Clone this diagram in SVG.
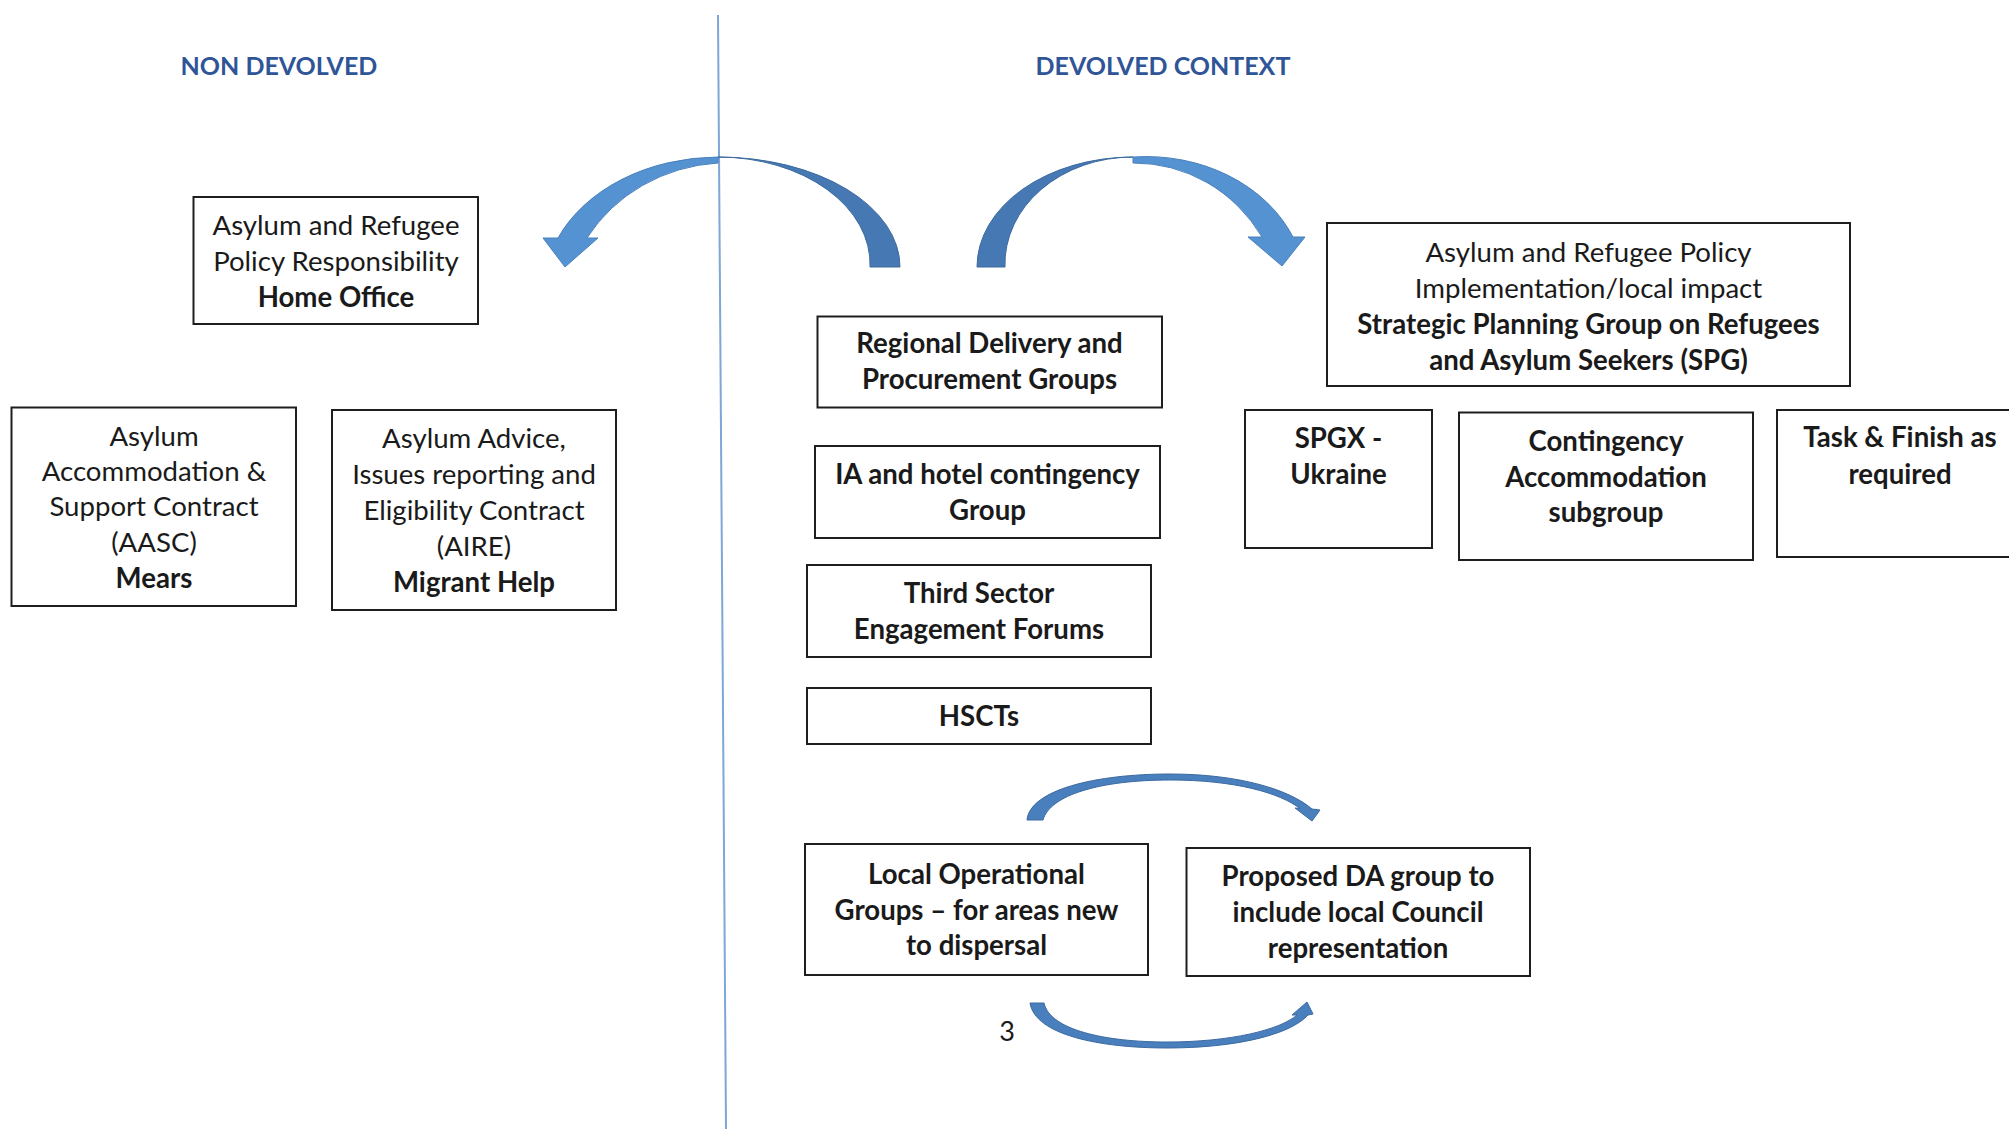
<svg xmlns="http://www.w3.org/2000/svg" width="2009" height="1129" viewBox="0 0 2009 1129">
<style>
.box{fill:#fff;stroke:#1e1e1e;stroke-width:2}
.t{font-family:Lato,"Liberation Sans",sans-serif;font-size:27.6px;fill:#1a1a1a;text-anchor:middle}
.b{font-weight:bold}
.h{font-family:Lato,"Liberation Sans",sans-serif;font-size:25px;font-weight:bold;fill:#2f5597;text-anchor:middle}
.dark{fill:#4678b4;stroke:#3d6a9e;stroke-width:1}
.light{fill:#5592d2;stroke:#4a80bb;stroke-width:1}
.small{fill:#4a7fbd;stroke:#3b6aa0;stroke-width:1}
</style>
<rect width="2009" height="1129" fill="#fff"/>
<line x1="718" y1="15" x2="726" y2="1129" stroke="#7ea6d6" stroke-width="2"/>
<text class="h" x="279" y="75">NON DEVOLVED</text>
<text class="h" x="1163" y="75">DEVOLVED CONTEXT</text>
<g id="connectors">
  <g id="arrow-left">
    <path class="dark" d="M900,267 A182,110 0 0 0 718,157 A152,107 0 0 1 870,267 Z"/>
    <path class="light" d="M718,157 A175,133 0 0 0 558,238 L543,238 L565,267 L598,238 L587,238 A165,155 0 0 1 718,163 Z"/>
  </g>
  <g id="arrow-right">
    <path class="dark" d="M977,267 A156,110 0 0 1 1133,157 A128,107 0 0 0 1005,267 Z"/>
    <path class="light" d="M1133,157 A160,133 0 0 1 1293,237 L1305,237 L1282,266 L1248,237 L1262,237 A150,155 0 0 0 1133,163 Z"/>
  </g>
  <path id="arrow-top-small" class="small" d="M1027,820 C1030,790 1095,774 1170,774 C1240,774 1290,790 1312,809 L1320,810 L1312,821 L1295,808 L1300,808.5 C1280,793 1235,780 1170,780 C1100,780 1050,795 1043,820 Z"/>
  <path id="arrow-bottom-small" class="small" d="M1030,1003 C1035,1035 1100,1048 1167,1048 C1235,1048 1290,1035 1308,1015 L1313,1014 L1307,1002 L1292,1015 L1297,1015 C1280,1030 1230,1042 1167,1042 C1105,1042 1050,1030 1044,1003 Z"/>
</g>
<g id="home-office">
  <rect class="box" x="193.5" y="197" width="284.5" height="127"/>
  <text class="t" x="336" y="235">Asylum and Refugee</text>
  <text class="t" x="336" y="271">Policy Responsibility</text>
  <text class="t b" x="336" y="307">Home Office</text>
</g>
<g id="mears">
  <rect class="box" x="11.5" y="407.5" width="284.5" height="198.5"/>
  <text class="t" x="154" y="446">Asylum</text>
  <text class="t" x="154" y="481">Accommodation &amp;</text>
  <text class="t" x="154" y="516">Support Contract</text>
  <text class="t" x="154" y="552">(AASC)</text>
  <text class="t b" x="154" y="588">Mears</text>
</g>
<g id="migrant-help">
  <rect class="box" x="332" y="410" width="284" height="200"/>
  <text class="t" x="474" y="448">Asylum Advice,</text>
  <text class="t" x="474" y="484">Issues reporting and</text>
  <text class="t" x="474" y="520">Eligibility Contract</text>
  <text class="t" x="474" y="556">(AIRE)</text>
  <text class="t b" x="474" y="592">Migrant Help</text>
</g>
<g id="regional">
  <rect class="box" x="817.5" y="316.5" width="344.5" height="91"/>
  <text class="t b" x="989.5" y="353">Regional Delivery and</text>
  <text class="t b" x="989.5" y="389">Procurement Groups</text>
</g>
<g id="ia-hotel">
  <rect class="box" x="815" y="446" width="345" height="92"/>
  <text class="t b" x="987.5" y="484">IA and hotel contingency</text>
  <text class="t b" x="987.5" y="520">Group</text>
</g>
<g id="third-sector">
  <rect class="box" x="807" y="565" width="344" height="92"/>
  <text class="t b" x="979" y="603">Third Sector</text>
  <text class="t b" x="979" y="639">Engagement Forums</text>
</g>
<g id="hscts">
  <rect class="box" x="807" y="688" width="344" height="56"/>
  <text class="t b" x="979" y="726">HSCTs</text>
</g>
<g id="spg">
  <rect class="box" x="1327" y="223" width="523" height="163"/>
  <text class="t" x="1588.5" y="262">Asylum and Refugee Policy</text>
  <text class="t" x="1588.5" y="298">Implementation/local impact</text>
  <text class="t b" x="1588.5" y="334">Strategic Planning Group on Refugees</text>
  <text class="t b" x="1588.5" y="370">and Asylum Seekers (SPG)</text>
</g>
<g id="spgx">
  <rect class="box" x="1245" y="410" width="187" height="138"/>
  <text class="t b" x="1338.5" y="448">SPGX -</text>
  <text class="t b" x="1338.5" y="484">Ukraine</text>
</g>
<g id="contingency">
  <rect class="box" x="1459" y="412.5" width="294" height="147.5"/>
  <text class="t b" x="1606" y="451">Contingency</text>
  <text class="t b" x="1606" y="487">Accommodation</text>
  <text class="t b" x="1606" y="522">subgroup</text>
</g>
<g id="task-finish">
  <rect class="box" x="1777" y="410" width="260" height="147"/>
  <text class="t b" x="1900" y="447">Task &amp; Finish as</text>
  <text class="t b" x="1900" y="484">required</text>
</g>
<g id="local-op">
  <rect class="box" x="805" y="844" width="343" height="131"/>
  <text class="t b" x="976.5" y="884">Local Operational</text>
  <text class="t b" x="976.5" y="920">Groups – for areas new</text>
  <text class="t b" x="976.5" y="955">to dispersal</text>
</g>
<g id="proposed-da">
  <rect class="box" x="1186.5" y="848" width="343.5" height="128"/>
  <text class="t b" x="1358" y="886">Proposed DA group to</text>
  <text class="t b" x="1358" y="922">include local Council</text>
  <text class="t b" x="1358" y="958">representation</text>
</g>
<text class="t" x="1007" y="1041" style="font-size:27px">3</text>
</svg>
